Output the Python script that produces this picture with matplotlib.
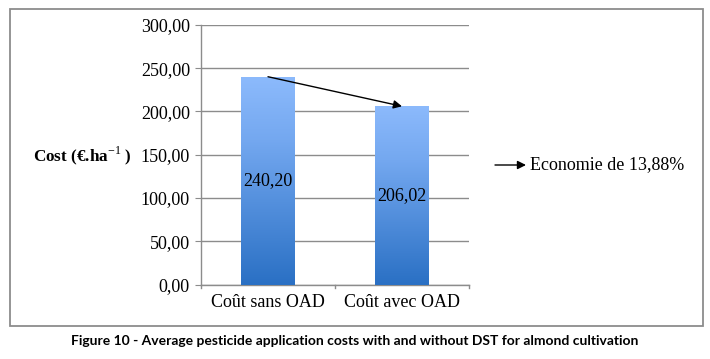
import matplotlib
matplotlib.use("Agg")
import matplotlib.pyplot as plt
import numpy as np
from matplotlib.colors import LinearSegmentedColormap
from matplotlib.patches import Rectangle, FancyArrowPatch

categories = ["Coût sans OAD", "Coût avec OAD"]
values = [240.20, 206.02]
value_labels = ["240,20", "206,02"]
yticks = [0, 50, 100, 150, 200, 250, 300]
ytick_labels = ["0,00", "50,00", "100,00", "150,00", "200,00", "250,00", "300,00"]
ylabel = "Cost (€.ha$^{-1}$ )"
note = "Economie de 13,88%"
caption = "Figure 10 - Average pesticide application costs with and without DST for almond cultivation"

plt.rcParams["mathtext.fontset"] = "custom"
plt.rcParams["mathtext.rm"] = "Liberation Serif"
plt.rcParams["mathtext.bf"] = "Liberation Serif:bold"

fig = plt.figure(figsize=(7.10, 3.59), dpi=100)
fig.patch.set_facecolor("white")

# outer border
border = Rectangle((10/710, 1-326/359), (703-10)/710, (326-9)/359, transform=fig.transFigure,
                   fill=False, edgecolor="#8c8c8c", linewidth=1.3)
fig.add_artist(border)

ax = fig.add_axes([201/710, 1-284.5/359, (469-201)/710, (284.5-25)/359])

cmap = LinearSegmentedColormap.from_list("g", [(0, "#2a70c4"), (0.7, "#74a8f0"), (1, "#8cbafc")])
grad = np.linspace(0, 1, 256).reshape(-1, 1)
bw = 0.40
bars = ax.bar(range(len(values)), values, width=bw, color="none", zorder=3)
for b in bars:
    x0, w, h = b.get_x(), b.get_width(), b.get_height()
    ax.imshow(grad, cmap=cmap, origin="lower", aspect="auto",
              extent=(x0, x0 + w, 0, h), zorder=3)
ax.set_xlim(-0.5, 1.5)
ax.set_ylim(0, 300)

for i, (v, lab) in enumerate(zip(values, value_labels)):
    ax.text(i, v / 2, lab, ha="center", va="center", fontsize=13,
            family="Liberation Serif", color="black", zorder=5)

ax.set_yticks(yticks)
ax.set_yticklabels(ytick_labels, family="Liberation Serif", fontsize=13)
ax.set_xticks(range(len(categories)))
ax.set_xticklabels(categories, family="Liberation Serif", fontsize=13)
ax.tick_params(axis="x", length=0, pad=7)
ax.tick_params(axis="y", length=4, color="#8c8c8c", pad=4)
for t in [-0.5, 0.5, 1.5]:
    ax.plot([t, t], [0, -4], color="#8c8c8c", lw=1, clip_on=False, zorder=2)
ax.grid(axis="y", color="#8c8c8c", linewidth=1, zorder=1)
ax.set_axisbelow(True)
for s in ["top", "right"]:
    ax.spines[s].set_visible(False)
for s in ["left", "bottom"]:
    ax.spines[s].set_color("#8c8c8c")
    ax.spines[s].set_linewidth(1)

# arrow between bars
arr = FancyArrowPatch((0, values[0]), (1, values[1]), arrowstyle="-|>,head_length=5,head_width=2.5",
                      color="black", lw=1, zorder=6, shrinkA=0, shrinkB=0)
ax.add_patch(arr)

fig.text(33/710, 1-156/359, ylabel, family="Liberation Serif", fontweight="bold",
         fontsize=12.3, ha="left", va="center")

fa = FancyArrowPatch((495/710, 1-165/359), (526/710, 1-165/359), transform=fig.transFigure,
                     arrowstyle="-|>,head_length=5,head_width=2.5", color="black", lw=1,
                     shrinkA=0, shrinkB=0)
fig.add_artist(fa)
fig.text(530/710, 1-165/359, note, family="Liberation Serif", fontsize=13,
         ha="left", va="center")

fig.text(355/710, 1-341/359, caption, family="Lato", fontweight="bold", fontsize=10,
         ha="center", va="center")

fig.savefig("out.png", dpi=100)
